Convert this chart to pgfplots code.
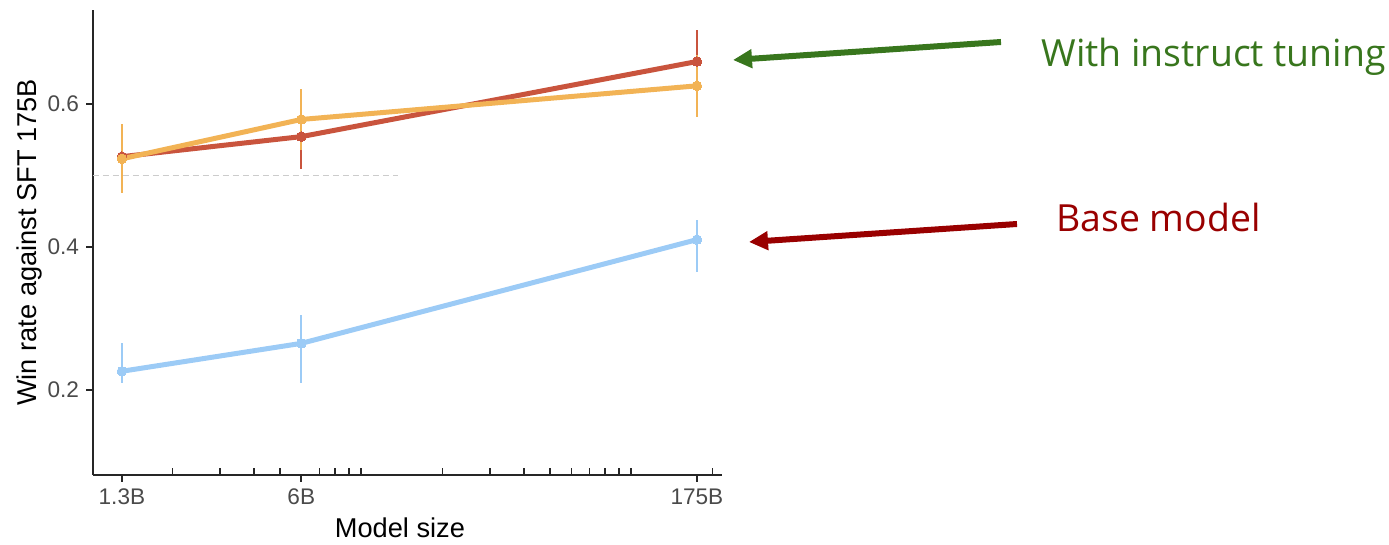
\documentclass[border=0pt]{standalone}
\usepackage{pgfplots}
\pgfplotsset{compat=1.18}
\usepackage{fontspec}
\setmainfont{Liberation Sans}
\newfontfamily\osans{Open Sans}
\usetikzlibrary{arrows.meta}

\definecolor{instrRed}{HTML}{C9543D}
\definecolor{instrOrange}{HTML}{F2B355}
\definecolor{baseBlue}{HTML}{9CCBF6}
\definecolor{noteGreen}{HTML}{38761D}
\definecolor{noteRed}{HTML}{990000}
\definecolor{tickGray}{HTML}{4A4A4A}

\pgfplotsset{
  winrate/.style={line width=2.5pt, mark=*, mark size=2.4pt,
    mark options={solid, line width=0pt, fill=#1}, color=#1,
    error bars/y dir=both, error bars/y explicit, error bars/error mark=none,
    error bars/error bar style={line width=1pt, solid, color=#1}},
}

\begin{document}
\begin{tikzpicture}
\path[use as bounding box] (0,0) rectangle (694.5pt,272.5pt);

\begin{axis}[
  at={(46.5pt,35pt)}, anchor=south west,
  scale only axis, width=314.5pt, height=232.5pt,
  xmode=log, xmin=1.016, xmax=216.7,
  ymin=0.081, ymax=0.731,
  axis lines*=left,
  axis line style={line width=1pt, color=black!85},
  xtick={1.3,6,175}, xticklabels={1.3B,6B,175B},
  minor xtick={},
  extra x ticks={2,3,4,5,7,8,9,10,20,30,40,50,60,70,80,90,100,200},
  extra x tick labels={},
  extra x tick style={tick align=inside, major tick length=3.5pt},
  ytick={0.2,0.4,0.6},
  yticklabel style={/pgf/number format/.cd, fixed, fixed zerofill, precision=1},
  /pgf/number format/assume math mode=true,
  tick align=outside, major tick length=3.5pt,
  tick style={line width=0.8pt, color=black!85},
  tick label style={font=\fontsize{11.3}{13}\selectfont, text=tickGray},
  xlabel={Model size}, ylabel={Win rate against SFT 175B},
  label style={font=\fontsize{13.6}{16}\selectfont},
  xlabel style={at={(axis description cs:0.488,-0.114)}, anchor=center},
  ylabel style={at={(axis description cs:-0.101,0.50)}, anchor=center},
  clip=false,
]

% chance level
\addplot[color=black!20, line width=0.6pt, dash pattern=on 3pt off 2pt, mark=none]
  coordinates {(1.016,0.5) (13.7,0.5)};

% base model
\addplot[winrate=baseBlue] coordinates {
  (1.3,0.226) += (0,0.040) -= (0,0.016)
  (6,0.265)   += (0,0.040) -= (0,0.055)
  (175,0.410) += (0,0.028) -= (0,0.045)
};

% instruct-tuned, first variant
\addplot[winrate=instrRed] coordinates {
  (1.3,0.526) +- (0,0.045)
  (6,0.554)   +- (0,0.045)
  (175,0.659) +- (0,0.044)
};

% instruct-tuned, second variant
\addplot[winrate=instrOrange] coordinates {
  (1.3,0.523) +- (0,0.048)
  (6,0.578)   +- (0,0.043)
  (175,0.625) +- (0,0.043)
};
\end{axis}

\begin{scope}[x=0.5pt,y=0.5pt]
\draw[noteGreen, line width=3pt, -{Triangle[length=9.5pt,width=9pt]}]
  (1001,503) -- (733,485);
\draw[noteRed, line width=3pt, -{Triangle[length=9.5pt,width=9pt]}]
  (1017,321) -- (749,303);
\node[anchor=base west, inner sep=0pt, text=noteGreen,
  font=\osans\fontsize{18.7}{22}\selectfont] at (1041,478) {With instruct tuning};
\node[anchor=base west, inner sep=0pt, text=noteRed,
  font=\osans\fontsize{18.7}{22}\selectfont] at (1056,313) {Base model};
\end{scope}
\end{tikzpicture}
\end{document}
